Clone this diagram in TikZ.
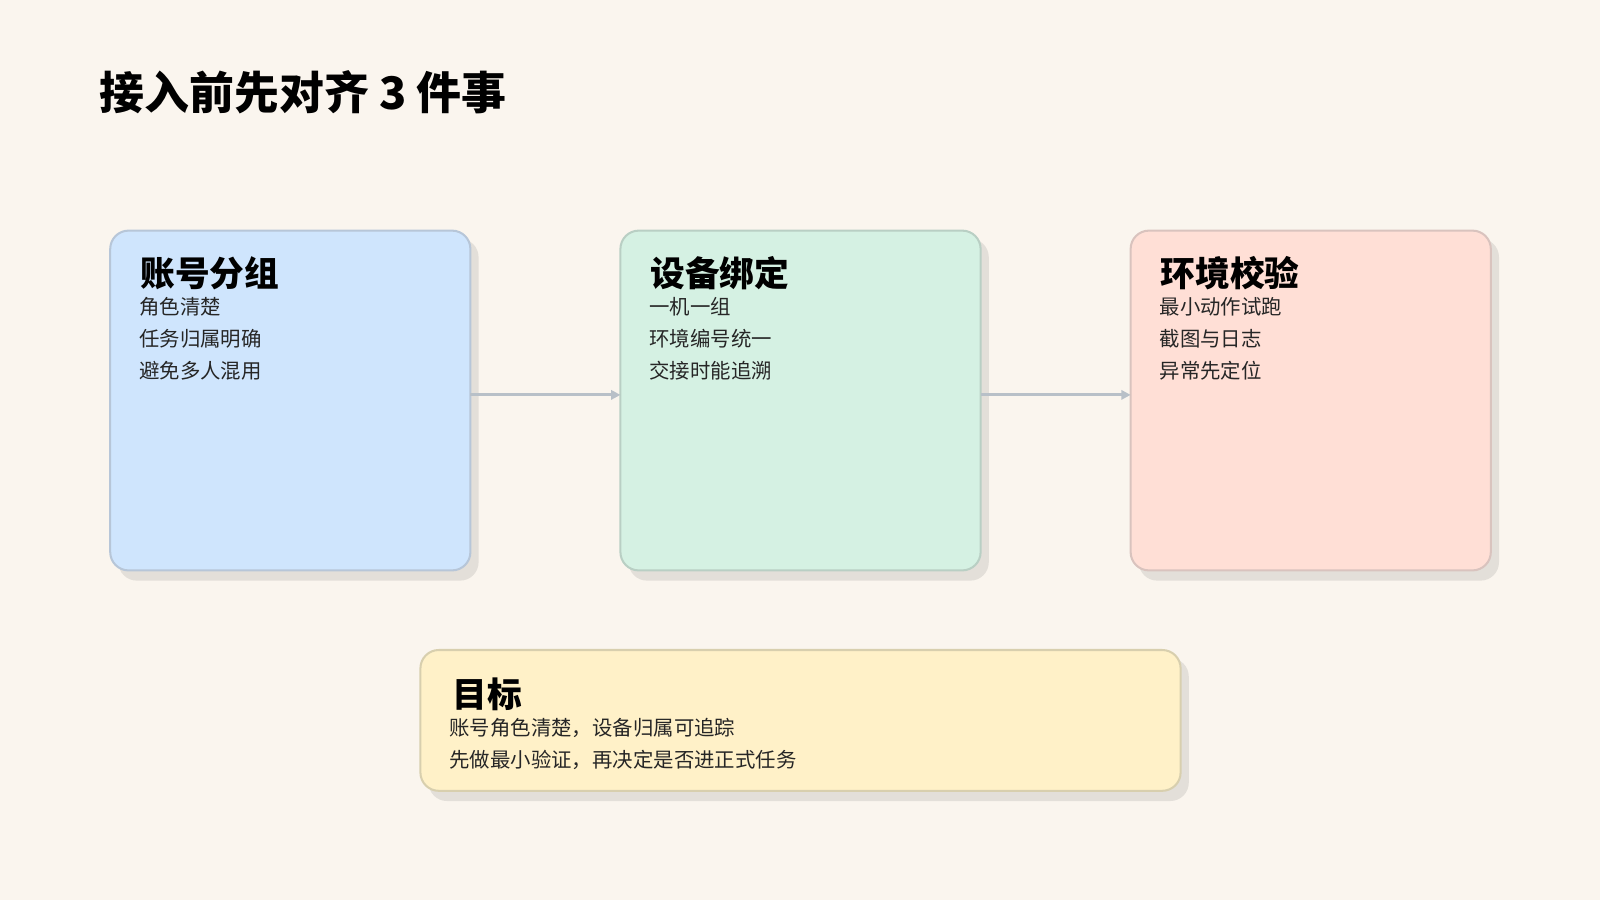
\documentclass[tikz,border=0pt]{standalone}
\usepackage{fontspec}
\setmainfont{Noto Sans CJK SC}
\usetikzlibrary{arrows.meta}
\definecolor{bg}{HTML}{FAF5EE}
\definecolor{shd}{HTML}{E3DFD9}
\definecolor{fa}{HTML}{CFE5FD}\definecolor{da}{HTML}{B7C6D8}
\definecolor{fb}{HTML}{D5F1E3}\definecolor{db}{HTML}{B9CFC4}
\definecolor{fc}{HTML}{FFDFD6}\definecolor{dc}{HTML}{D9C3BE}
\definecolor{fd}{HTML}{FFF1C8}\definecolor{dd}{HTML}{D8CFAE}
\definecolor{arr}{HTML}{B8C0C8}
\tikzset{card/.style={rounded corners=18pt,line width=2pt},
 ttl/.style={anchor=west,font=\fontsize{34}{40}\selectfont\bfseries},
 body/.style={anchor=north west,align=left,font=\fontsize{20}{31.5}\selectfont,text=black!85},
 conn/.style={draw=arr,line width=3pt,-{Triangle[length=9pt,width=9pt]}}}
\begin{document}
\begin{tikzpicture}[x=1pt,y=-1pt]
\fill[bg] (0,0) rectangle (1568,882);
\useasboundingbox (0,0) rectangle (1568,882);
\node[anchor=west,font=\fontsize{44}{50}\selectfont\bfseries] (title) at (94,90) {接入前先对齐 3 件事};
\foreach \x/\f/\d/\n in {108/fa/da/A,608/fb/db/B,1108/fc/dc/C}{
 \fill[shd,rounded corners=18pt] (\x+8,234) rectangle (\x+361,569);
 \draw[card,fill=\f,draw=\d] (\x,226) rectangle (\x+353,559);
 \coordinate (\n l) at (\x,387); \coordinate (\n r) at (\x+353,387);
}
\node[ttl] (ta) at (134,268) {账号分组};
\node[body] (ba) at (133,288) {角色清楚\\任务归属明确\\避免多人混用};
\node[ttl] (tb) at (634,268) {设备绑定};
\node[body] (bb) at (633,288) {一机一组\\环境编号统一\\交接时能追溯};
\node[ttl] (tc) at (1134,268) {环境校验};
\node[body] (bc) at (1133,288) {最小动作试跑\\截图与日志\\异常先定位};
\draw[conn] (Ar) -- (Bl);
\draw[conn] (Br) -- (Cl);
\fill[shd,rounded corners=18pt] (420,645) rectangle (1165,785);
\draw[card,fill=fd,draw=dd] (412,637) rectangle (1157,775);
\node[ttl] (td) at (440,680) {目标};
\node[body] (bd) at (437,700) {账号角色清楚，设备归属可追踪\\先做最小验证，再决定是否进正式任务};
\end{tikzpicture}
\end{document}
